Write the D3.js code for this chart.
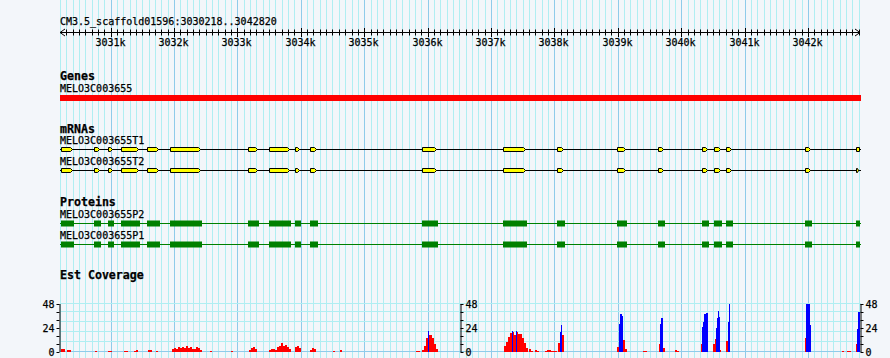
<!DOCTYPE html>
<html><head><meta charset="utf-8">
<script src="https://cdn.jsdelivr.net/npm/d3@7"></script>
<style>
html,body{margin:0;padding:0;background:#f3f6fa;}
svg{display:block;}
text{font-family:"DejaVu Sans Mono",monospace;fill:#000;stroke:#000;stroke-width:0.25px;}
</style></head><body>
<svg id="c" width="890" height="358"></svg>
<script>
// ---------------- DATA ----------------
const regionName = "CM3.5_scaffold01596";
const regionStart = 3030218, regionEnd = 3042820;
const tickKb = [3031,3032,3033,3034,3035,3036,3037,3038,3039,3040,3041,3042];
const trackTitles = ["Genes","mRNAs","Proteins","Est Coverage"];
const geneName = "MELO3C003655";
const geneSpan = [3030218, 3042820];
const mrnaNames = ["MELO3C003655T1","MELO3C003655T2"];
const mrnaLastTip = [false, true];
const proteinNames = ["MELO3C003655P2","MELO3C003655P1"];
const exons = [[3030218,3030423],[3030739,3030849],[3030959,3031054],[3031165,3031464],
  [3031570,3031780],[3031938,3032442],[3033168,3033341],[3033499,3033846],[3033909,3034004],
  [3034146,3034272],[3035913,3036165],[3037191,3037569],[3038042,3038169],[3038989,3039147],
  [3039636,3039746],[3040330,3040440],[3040519,3040645],[3040708,3040819],[3041955,3042065],
  [3042759,3042820]];
const covMax = 48;
const covTicks = [0,8,16,24,32,40,48];
const covTickLabels = [0,24,48];
const covGrid = [0,10,20,30,40,48];
const covRedBin = 32, covBlueBin = 16;
const covRed = [
  [3030218,[3,3]],[3030305,[2,2]],[3030754,[1]],[3030959,[1,1]],[3031212,[1,1]],
  [3031370,[1,2]],[3031590,[2,2]],[3031717,[1]],
  [3031969,[3,4,3,5,4,5,4,6,4,5,3,3,5,4,2]],
  [3032568,[1]],[3032900,[1]],[3033184,[2,4,5,3]],
  [3033499,[2,3,3,2,5,6,9,6,7,5,3]],[3033909,[5,6,4]],[3034146,[2,4,3]],
  [3034509,[1]],[3034619,[2]],[3035818,[1,1]],
  [3035913,[2,6,14,17,17,14,8,3]],
  [3037206,[6,10,15,19,20,17,20,18,18,14,9,4]],
  [3037601,[3,1]],[3037695,[2,1]],[3037853,[1,2,2,1,1,1]],
  [3038058,[9,15,17]],[3038989,[5,11,15,12,3]],[3039399,[1,1]],
  [3039651,[8,20,4]],[3039904,[2,1]],[3040314,[8,12,4]],[3040503,[8,13,13,2]],
  [3040708,[11,14]],[3041955,[14,12,3]],[3042538,[1]],[3042617,[1,1]],[3042759,[8]]
];
const covBlue = [
  [3036007,[21]],[3037333,[21]],[3037396,[21]],[3038090,[20,27]],
  [3039020,[28,38,38,36]],[3039667,[28,34,34]],[3040330,[25,30,38,38,39,39]],
  [3040551,[24,34,41,35]],[3040740,[30,48]],[3041970,[48,48,48,48,27]],
  [3042775,[23,40,40]]
];

// ---------------- DRAW ----------------
const svg = d3.select("#c");
const W = 890, H = 358;
const x = d3.scaleLinear().domain([regionStart, regionEnd]).range([61, 860]);
const px = v => Math.round(x(v));

// vertical grid
const gridVals = d3.range(Math.floor(regionStart/100)*100, regionEnd+1, 100);
svg.append("g").selectAll("line").data(gridVals).join("line")
  .attr("x1", d => px(d)+0.5).attr("x2", d => px(d)+0.5)
  .attr("y1", 0).attr("y2", H)
  .attr("stroke", d => d % 1000 === 0 ? "#8fcbea" : "#b0eef2")
  .attr("stroke-width", 1);

// region label
svg.append("text").attr("x", 60).attr("y", 25).attr("font-size", 10)
  .text(`${regionName}:${regionStart}..${regionEnd}`);

// ruler
const ax = svg.append("g").attr("transform", "translate(0,32.5)");
const minorAxis = d3.axisBottom(x).tickValues(gridVals.filter(d => d >= regionStart && d % 1000 !== 0))
  .tickSize(0).tickFormat("");
const ga = ax.append("g").call(minorAxis);
ga.select(".domain").remove();
ga.selectAll(".tick").attr("transform", d => `translate(${px(d)+0.5},0)`);
ga.selectAll(".tick line").attr("y1", -3).attr("y2", 3).attr("stroke", "#000");
const majorAxis = d3.axisBottom(x).tickValues(tickKb.map(k => k*1000)).tickSize(0)
  .tickFormat(d => (d/1000) + "k");
const gm = ax.append("g").call(majorAxis);
gm.select(".domain").remove();
gm.selectAll(".tick").attr("transform", d => `translate(${px(d)+0.5},0)`);
gm.selectAll(".tick line").attr("y1", -4.5).attr("y2", 4.5).attr("stroke", "#000");
gm.selectAll(".tick text").attr("y", 13.5).attr("dy", 0).attr("dx", -1)
  .attr("font-size", 10).attr("font-family", "DejaVu Sans Mono").attr("fill", "#000");
ax.append("line").attr("x1", x(regionStart)-1).attr("x2", x(regionEnd)).attr("y1", 0).attr("y2", 0)
  .attr("stroke", "#000");
ax.append("path").attr("d", `M${x(regionStart)+4},-3.5L${x(regionStart)-1},0L${x(regionStart)+4},3.5`)
  .attr("fill", "none").attr("stroke", "#000");
ax.append("path").attr("d", `M${x(regionEnd)-5},-3.5L${x(regionEnd)},0L${x(regionEnd)-5},3.5`)
  .attr("fill", "none").attr("stroke", "#000");

// titles
const titleY = [79.5, 133, 206, 279];
svg.append("g").selectAll("text").data(trackTitles).join("text")
  .attr("x", 60).attr("y", (d,i) => titleY[i])
  .attr("font-size", 11.6).attr("font-weight", "bold").text(d => d);

// gene
svg.append("text").attr("x", 60).attr("y", 91.5).attr("font-size", 10).text(geneName);
svg.append("rect").attr("x", x(geneSpan[0])-1).attr("width", x(geneSpan[1]) - x(geneSpan[0]) + 2)
  .attr("y", 95).attr("height", 6).attr("fill", "#ff0000");

// mRNAs
const mrnaLabelY = [144, 165];
const mrnaLineY = [149.5, 170.5];
mrnaNames.forEach((name, ti) => {
  const g = svg.append("g");
  g.append("text").attr("x", 60).attr("y", mrnaLabelY[ti]).attr("font-size", 10).text(name);
  g.append("line").attr("x1", x(regionStart)-1).attr("x2", x(regionEnd)+1)
    .attr("y1", mrnaLineY[ti]).attr("y2", mrnaLineY[ti]).attr("stroke", "#000").attr("stroke-width", 1.2);
  const cy = mrnaLineY[ti];
  g.selectAll("path.ex").data(exons).join("path").attr("class","ex")
    .attr("d", (e, i) => {
      const x0 = Math.round(x(e[0])) + 0.5;
      let x1 = Math.round(x(e[1])) - 1.5;
      const last = i === exons.length - 1;
      if (last && !mrnaLastTip[ti]) {
        x1 = Math.round(x(e[1])) - 0.5;
        return `M${x0},${cy-2}H${x1}V${cy+2}H${x0}Z`;
      }
      const b = Math.max(x0 + 1, x1 - 2);
      return `M${x0},${cy-2}H${b}L${x1},${cy}L${b},${cy+2}H${x0}Z`;
    })
    .attr("fill", "#ffff00").attr("stroke", "#000").attr("stroke-width", 1);
});

// proteins
const protLabelY = [218, 239];
const protLineY = [223.5, 244.5];
proteinNames.forEach((name, ti) => {
  const g = svg.append("g");
  g.append("text").attr("x", 60).attr("y", protLabelY[ti]).attr("font-size", 10).text(name);
  g.append("line").attr("x1", x(regionStart)-1).attr("x2", x(regionEnd)+1)
    .attr("y1", protLineY[ti]).attr("y2", protLineY[ti]).attr("stroke", "#008000").attr("stroke-width", 1.2);
  g.selectAll("rect").data(exons).join("rect")
    .attr("x", e => Math.round(x(e[0])))
    .attr("width", e => Math.max(2, Math.round(x(e[1])) - Math.round(x(e[0]))))
    .attr("y", protLineY[ti] - 3).attr("height", 6).attr("fill", "#008000");
});

// coverage
const y = d3.scaleLinear().domain([0, covMax]).range([352, 304]);
const cg = svg.append("g");
cg.selectAll("line.hg").data(covGrid).join("line").attr("class","hg")
  .attr("x1", 60).attr("x2", x(regionEnd)+1)
  .attr("y1", d => Math.round(y(d)) - 0.5).attr("y2", d => Math.round(y(d)) - 0.5)
  .attr("stroke", d => d === 0 ? "#8fcbea" : "#b0eef2");

function bars(data, bin, color) {
  const flat = [];
  data.forEach(([s, vals]) => vals.forEach((v, i) => flat.push({s: s + i*bin, e: s + (i+1)*bin, v})));
  cg.append("g").selectAll("rect").data(flat).join("rect")
    .attr("x", d => Math.round(x(d.s)))
    .attr("width", d => Math.max(1, Math.round(x(d.e)) - Math.round(x(d.s))))
    .attr("y", d => Math.round(y(d.v)))
    .attr("height", d => Math.round(y(0)) - Math.round(y(d.v)))
    .attr("fill", color).attr("shape-rendering", "crispEdges");
}
bars(covRed, covRedBin, "#ff0000");
bars(covBlue, covBlueBin, "#0000ff");

function yAxis(xpos, side) {
  const a = (side === "left" ? d3.axisLeft(y) : d3.axisRight(y))
    .tickValues(covTicks).tickSize(3).tickPadding(2)
    .tickFormat(d => covTickLabels.includes(d) ? d : "");
  const g = svg.append("g").attr("transform", `translate(${xpos},0)`).call(a);
  g.select(".domain").attr("stroke", "#000").attr("d",
    `M0.5,${Math.round(y(covMax))}V${Math.round(y(0))}`);
  g.selectAll(".tick line").attr("stroke", "#000");
  g.selectAll(".tick text").attr("font-size", 10).attr("font-family", "DejaVu Sans Mono").attr("fill", "#000");
}
yAxis(59.5, "left");
yAxis(460.5, "right");
yAxis(860.5, "right");
</script>
</body></html>
